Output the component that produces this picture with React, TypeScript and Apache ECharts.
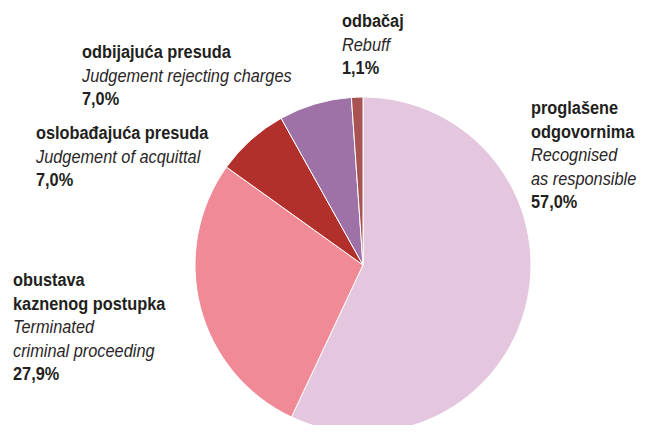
import React, { useEffect, useRef } from "react";
import * as echarts from "echarts";

const namesHr = ["proglašene\nodgovornima", "obustava\nkaznenog postupka", "oslobađajuća presuda", "odbijajuća presuda", "odbačaj"];
const namesEn = ["Recognised\nas responsible", "Terminated\ncriminal proceeding", "Judgement of acquittal", "Judgement rejecting charges", "Rebuff"];
const values = [57.0, 27.9, 7.0, 7.0, 1.1];
const colors = ["#e4c6df", "#f08a96", "#b2302c", "#9e72a6", "#a85252"];
const labelPos = [
  [531, 96],
  [13, 268],
  [36, 121],
  [82, 40],
  [342, 9],
];

const FONT = '"Liberation Sans", Arial, sans-serif';

export default function App() {
  const ref = useRef<HTMLDivElement>(null);
  useEffect(() => {
    const chart = echarts.init(ref.current!, null, { renderer: "svg" });
    const fmt = (v: number) => v.toFixed(1).replace(".", ",") + "%";
    chart.setOption({
      animation: false,
      series: [
        {
          type: "pie",
          center: [363, 265],
          radius: 168,
          startAngle: 90,
          clockwise: true,
          label: { show: false },
          labelLine: { show: false },
          itemStyle: { borderColor: "#ffffff", borderWidth: 1 },
          data: values.map((v, i) => ({ value: v, name: namesHr[i].replace("\n", " "), itemStyle: { color: colors[i] } })),
        },
      ],
      graphic: values.map((v, i) => {
        const hr = namesHr[i].split("\n").map((s) => `{b|${s}}`).join("\n");
        const en = namesEn[i].split("\n").map((s) => `{i|${s}}`).join("\n");
        return {
          type: "text",
          x: labelPos[i][0],
          y: labelPos[i][1],
          scaleX: 0.86,
          style: {
            x: 0,
            y: 0,
            verticalAlign: "top",
            align: "left",
            text: `${hr}\n${en}\n{b|${fmt(v)}}`,
            rich: {
              b: { fontFamily: FONT, fontSize: 19, fontWeight: "bold", lineHeight: 23.5, fill: "#231f20" },
              i: { fontFamily: FONT, fontSize: 19, fontStyle: "italic", lineHeight: 23.5, fill: "#2a2627" },
            },
          },
        };
      }),
    });
    return () => chart.dispose();
  }, []);
  return <div ref={ref} style={{ width: 645, height: 433, margin: -8 }} />;
}
